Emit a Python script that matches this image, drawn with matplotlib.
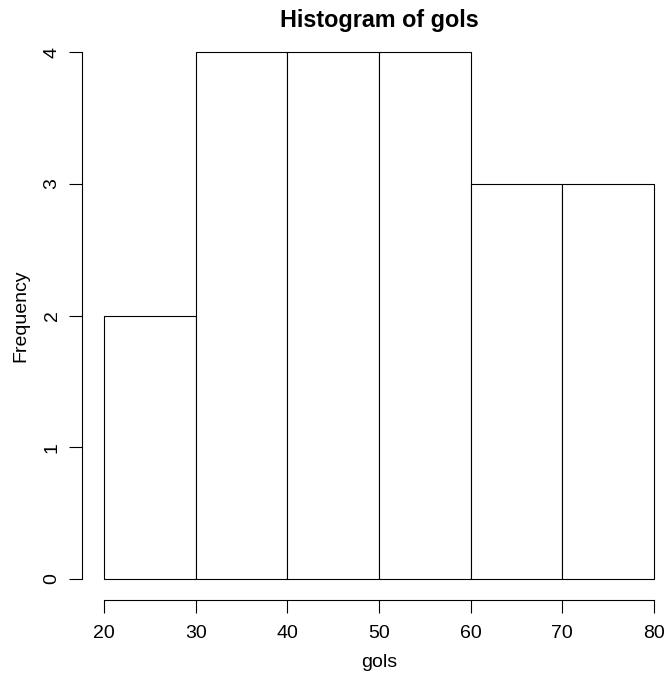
import matplotlib
matplotlib.use("Agg")
import matplotlib.pyplot as plt

# histogram bins and counts of "gols"
bin_edges = [20, 30, 40, 50, 60, 70, 80]
counts = [2, 4, 4, 4, 3, 3]
x_ticks = [20, 30, 40, 50, 60, 70, 80]
y_ticks = [0, 1, 2, 3, 4]

plt.rcParams['font.family'] = ['Liberation Sans', 'DejaVu Sans']

W, H = 666, 676
fig = plt.figure(figsize=(W / 100, H / 100), dpi=100)
ax = fig.add_axes([104 / W, (H - 579) / H, 550 / W, 527 / H])

widths = [b - a for a, b in zip(bin_edges[:-1], bin_edges[1:])]
ax.bar(bin_edges[:-1], counts, width=widths, align='edge',
       color='white', edgecolor='black', linewidth=0.8, clip_on=False)

ax.set_xlim(20, 80)
ax.set_ylim(0, 4)

for s in ['top', 'right']:
    ax.spines[s].set_visible(False)
ax.spines['left'].set_position(('outward', 22 * 0.72))
ax.spines['bottom'].set_position(('outward', 21 * 0.72))
ax.spines['left'].set_bounds(0, 4)
ax.spines['bottom'].set_bounds(20, 80)
for s in ['left', 'bottom']:
    ax.spines[s].set_linewidth(0.8)

ax.set_xticks(x_ticks)
ax.set_yticks(y_ticks)
ax.tick_params(axis='both', length=13 * 0.72, width=0.8, labelsize=14)
ax.tick_params(axis='x', pad=8.5)
ax.tick_params(axis='y', pad=6)
for lbl in ax.get_yticklabels():
    lbl.set_rotation(90)
    lbl.set_va('center')

ax.set_xlabel('gols', fontsize=14, labelpad=9)
ax.set_ylabel('Frequency', fontsize=14, labelpad=10)
ax.set_title('Histogram of gols', fontsize=16.8, fontweight='bold', pad=18)

fig.savefig('out.png', dpi=100, facecolor='white')
